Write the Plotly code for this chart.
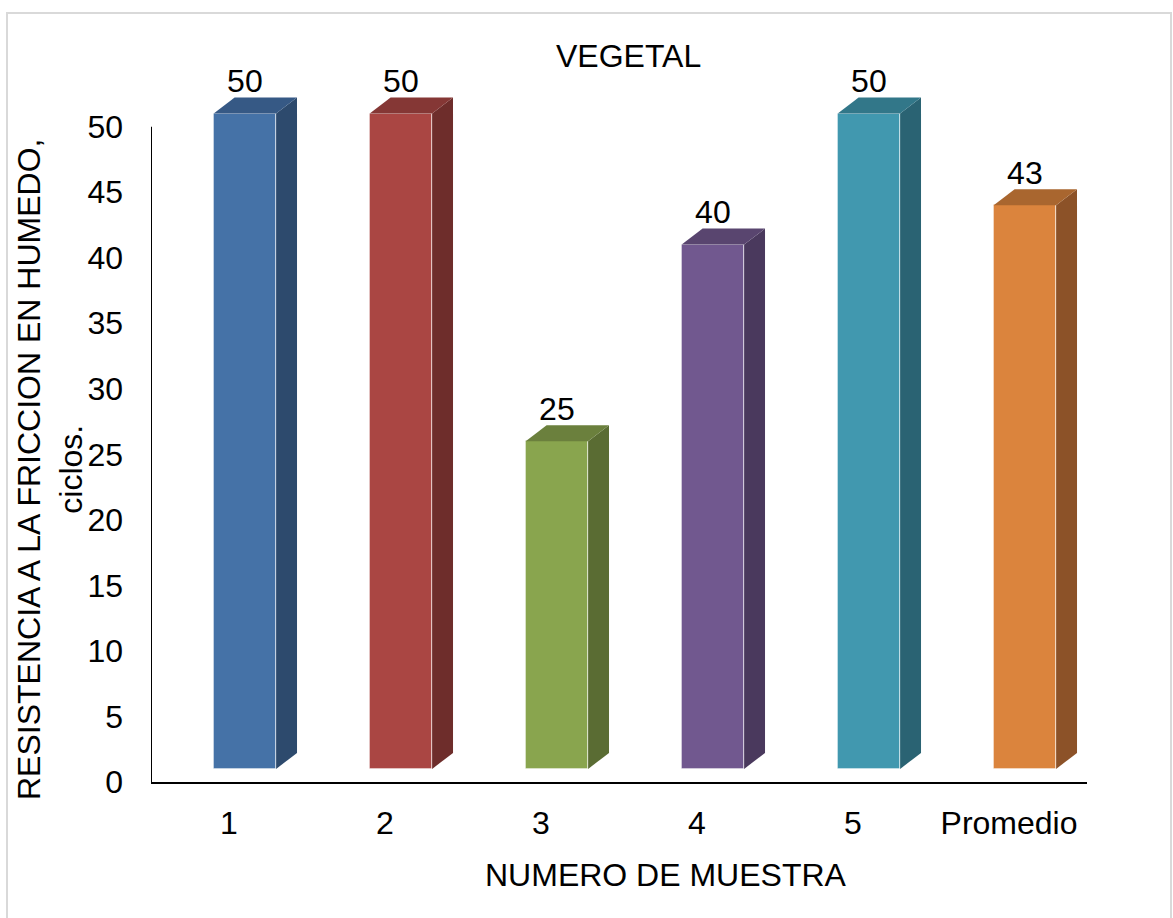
import plotly.graph_objects as go

# Sample categories and wet-friction resistance (cycles)
categories = ["1", "2", "3", "4", "5", "Promedio"]
values = [50, 50, 25, 40, 50, 43]

front_colors = ["#4572A7", "#AA4643", "#89A54E", "#71588F", "#4198AF", "#DB843D"]
side_colors = ["#2D4A6D", "#6E2D2B", "#5A6C33", "#4A395D", "#2A6373", "#8C5228"]
top_colors = ["#365985", "#853735", "#6B803D", "#59456F", "#327789", "#A9662F"]

y_ticks = list(range(0, 55, 5))

# Pseudo-3D geometry (in axis units)
FLOOR = 1.0          # front face sits slightly above the floor line
LEFT, RIGHT = -0.098, 0.302
DX, DY = 0.134, 1.22
LABEL_GAP = 1.03

FONT = "Liberation Sans, Arial, sans-serif"
FS = 32

fig = go.Figure()

xs = list(range(len(categories)))

# Front faces
fig.add_trace(go.Bar(
    x=xs, y=values, base=[FLOOR] * len(values),
    offset=LEFT, width=RIGHT - LEFT,
    marker=dict(color=front_colors, line=dict(color="rgba(255,255,255,0.35)", width=1)),
    hoverinfo="skip", showlegend=False,
))

# Side and top faces
for i, v in enumerate(values):
    top = v + FLOOR
    fig.add_trace(go.Scatter(
        x=[i + RIGHT, i + RIGHT + DX, i + RIGHT + DX, i + RIGHT, i + RIGHT],
        y=[FLOOR, FLOOR + DY, top + DY, top, FLOOR],
        fill="toself", fillcolor=side_colors[i], mode="lines",
        line=dict(width=0), hoverinfo="skip", showlegend=False,
    ))
    fig.add_trace(go.Scatter(
        x=[i + LEFT, i + LEFT + DX, i + RIGHT + DX, i + RIGHT, i + LEFT],
        y=[top, top + DY, top + DY, top, top],
        fill="toself", fillcolor=top_colors[i], mode="lines",
        line=dict(width=0), hoverinfo="skip", showlegend=False,
    ))

# Data labels
fig.add_trace(go.Scatter(
    x=[i + (LEFT + RIGHT) / 2 for i in xs],
    y=[v + FLOOR + DY + LABEL_GAP for v in values],
    text=[str(v) for v in values], mode="text",
    textposition="middle center",
    textfont=dict(family=FONT, size=FS, color="black"),
    cliponaxis=False, hoverinfo="skip", showlegend=False,
))

fig.update_layout(
    width=1173, height=918,
    margin=dict(l=151, r=86, t=48, b=136),
    paper_bgcolor="white", plot_bgcolor="white",
    font=dict(family=FONT, size=FS, color="black"),
    bargap=0,
    xaxis=dict(
        range=[-0.5, 5.5], tickvals=xs, ticktext=categories,
        showgrid=False, zeroline=False, showline=True,
        linecolor="black", linewidth=2, ticks="",
        ticklabelstandoff=12, fixedrange=True,
    ),
    yaxis=dict(
        range=[0, 56], tickvals=y_ticks, ticktext=[str(t) for t in y_ticks],
        showgrid=False, zeroline=False, showline=False, ticks="",
        ticklabelstandoff=27, fixedrange=True,
    ),
    shapes=[
        # value axis line (only up to the last tick)
        dict(type="line", xref="x", yref="y", x0=-0.5, x1=-0.5, y0=0, y1=50,
             line=dict(color="black", width=2)),
        # chart border
        dict(type="rect", xref="paper", yref="paper",
             x0=(7 - 151) / 936, x1=(1171 - 151) / 936,
             y0=(782 - 925) / 734, y1=(782 - 13) / 734,
             line=dict(color="#D9D9D9", width=2), fillcolor="rgba(0,0,0,0)",
             layer="below"),
    ],
    annotations=[
        dict(text="VEGETAL", xref="paper", yref="paper",
             x=(628 - 151) / 936, y=(782 - 56) / 734,
             xanchor="center", yanchor="middle", showarrow=False,
             font=dict(family=FONT, size=FS)),
        dict(text="NUMERO DE MUESTRA", xref="paper", yref="paper",
             x=(666 - 151) / 936, y=(782 - 875) / 734,
             xanchor="center", yanchor="middle", showarrow=False,
             font=dict(family=FONT, size=FS)),
        dict(text="RESISTENCIA A LA FRICCION EN HUMEDO,<br>ciclos.",
             xref="paper", yref="paper",
             x=(50 - 151) / 936, y=(782 - 470) / 734,
             xanchor="center", yanchor="middle", textangle=-90,
             showarrow=False, font=dict(family=FONT, size=FS)),
    ],
)

fig.write_html("out.html")
